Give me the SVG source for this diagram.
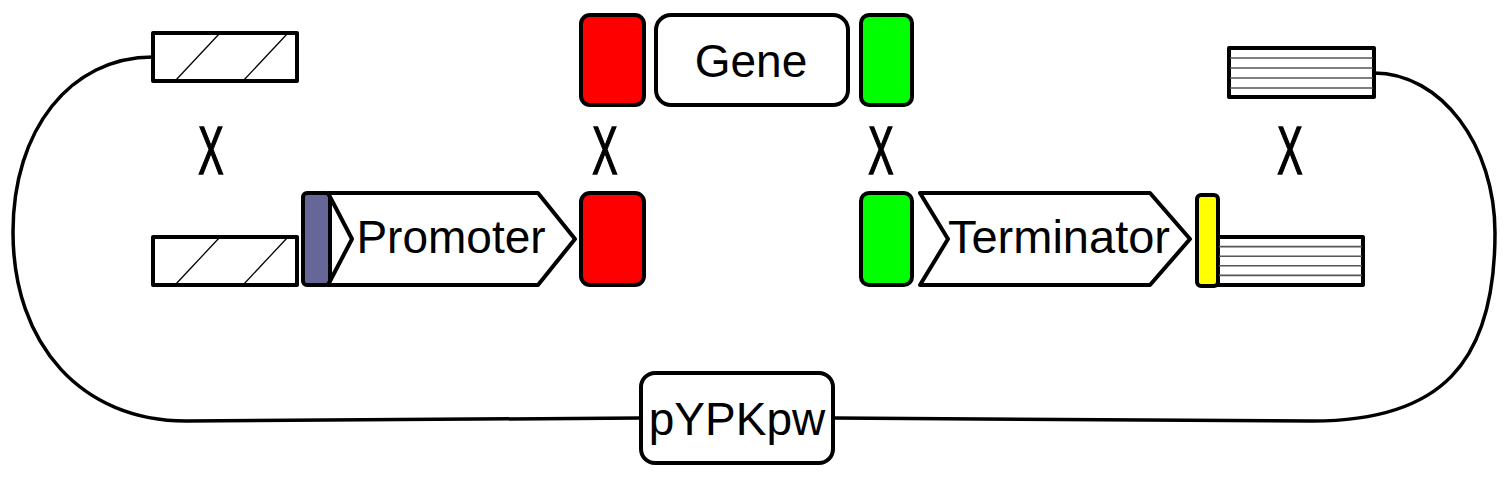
<svg xmlns="http://www.w3.org/2000/svg" width="1510" height="480" viewBox="0 0 1510 480">
<style>
.box{stroke:#000;stroke-width:4;stroke-linejoin:round}
.hatch{stroke:#000;stroke-width:1.3}
.stripe{stroke:#555;stroke-width:1.6}
.wire{fill:none;stroke:#000;stroke-width:3.5}
.lbl{font-family:"Liberation Sans",Arial,sans-serif;font-size:46px;fill:#000;text-anchor:middle}
.x{font-family:"Liberation Sans",Arial,sans-serif;font-size:69px;fill:#000;stroke:#000;stroke-width:1.6;text-anchor:middle}
</style>
<rect width="1510" height="480" fill="#fff"/>
<g id="connectors">
<path class="wire" d="M153,57 C70,57 13,130 13,232 C13,345 82,421 186,421 L641,418"/>
<path class="wire" d="M1374,73 C1441,73 1495,145 1495,233 C1495,364 1440,421 1313,421 L833,418"/>
</g>
<g id="homology-left-top">
<rect class="box" x="153" y="33" width="144" height="48" fill="#fff"/>
<line class="hatch" x1="175" y1="81" x2="220" y2="33"/>
<line class="hatch" x1="243" y1="81" x2="288" y2="33"/>
</g>
<g id="homology-left-bottom">
<rect class="box" x="153" y="237" width="144" height="48" fill="#fff"/>
<line class="hatch" x1="175" y1="285" x2="220" y2="237"/>
<line class="hatch" x1="243" y1="285" x2="288" y2="237"/>
</g>
<g id="purple-linker">
<rect class="box" x="303" y="193" width="27" height="92" rx="4" fill="#666699" stroke-width="3"/>
</g>
<g id="promoter">
<polygon class="box" points="328,193 538,193 575,239 538,285 328,285 352,239" fill="#fff" stroke-width="3.5"/>
<text class="lbl" x="451" y="253">Promoter</text>
</g>
<g id="red-bottom">
<rect class="box" x="581" y="193" width="63" height="92" rx="9" fill="#ff0000"/>
</g>
<g id="red-top">
<rect class="box" x="581" y="15" width="63" height="90" rx="9" fill="#ff0000"/>
</g>
<g id="gene">
<rect class="box" x="656" y="15" width="192" height="90" rx="15" fill="#fff"/>
<text class="lbl" x="751" y="77">Gene</text>
</g>
<g id="green-top">
<rect class="box" x="861" y="15" width="51" height="90" rx="8" fill="#00ff00"/>
</g>
<g id="green-bottom">
<rect class="box" x="861" y="193" width="51" height="92" rx="8" fill="#00ff00"/>
</g>
<g id="terminator">
<polygon class="box" points="920,193 1150,193 1190,239 1150,285 920,285 948,239" fill="#fff" stroke-width="3.5"/>
<text class="lbl" x="1059" y="253" style="font-size:47px">Terminator</text>
</g>
<g id="yellow-linker">
<rect class="box" x="1197" y="195" width="21" height="91" rx="4" fill="#ffff00" stroke-width="3"/>
</g>
<g id="homology-right-bottom">
<rect class="box" x="1218" y="237" width="145" height="48" fill="#fff"/>
<line class="stripe" x1="1219" y1="246.6" x2="1362" y2="246.6"/>
<line class="stripe" x1="1219" y1="256.2" x2="1362" y2="256.2" stroke="#000"/>
<line class="stripe" x1="1219" y1="265.8" x2="1362" y2="265.8"/>
<line class="stripe" x1="1219" y1="275.4" x2="1362" y2="275.4"/>
</g>
<g id="homology-right-top">
<rect class="box" x="1229" y="48" width="145" height="49" fill="#fff"/>
<line class="stripe" x1="1230" y1="58" x2="1373" y2="58"/>
<line class="stripe" x1="1230" y1="68" x2="1373" y2="68" stroke="#000"/>
<line class="stripe" x1="1230" y1="78" x2="1373" y2="78"/>
<line class="stripe" x1="1230" y1="88" x2="1373" y2="88"/>
</g>
<g id="plasmid">
<rect class="box" x="641" y="373" width="192" height="90" rx="14" fill="#fff"/>
<text class="lbl" x="737" y="435">pYPKpw</text>
</g>
<g id="crossovers">
<text class="x" transform="translate(211,174) scale(0.55,1)">X</text>
<text class="x" transform="translate(605,174) scale(0.55,1)">X</text>
<text class="x" transform="translate(881,174) scale(0.55,1)">X</text>
<text class="x" transform="translate(1290,174) scale(0.55,1)">X</text>
</g>
</svg>
